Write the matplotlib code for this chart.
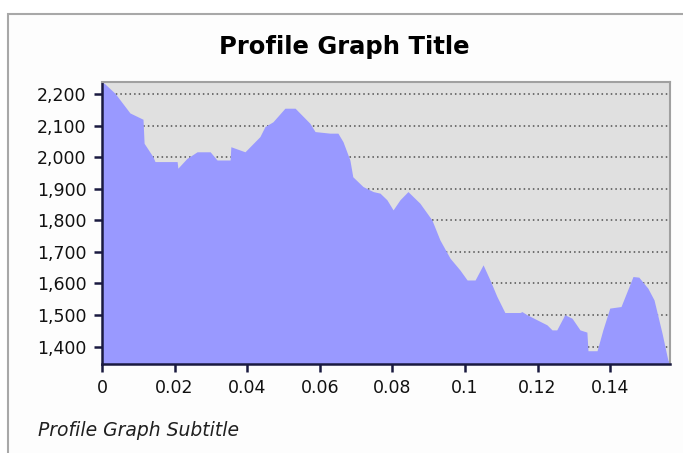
import matplotlib
matplotlib.use('Agg')
import matplotlib.pyplot as plt
from matplotlib.patches import Rectangle
from matplotlib.ticker import FuncFormatter

# distance along the profile and elevation
distance = [0, 0.0008, 0.0036, 0.0077, 0.0113, 0.0116, 0.0140, 0.0146, 0.0207, 0.0209,
            0.0234, 0.0262, 0.0298, 0.0317, 0.0353, 0.0355, 0.0394, 0.0435, 0.0449, 0.0471,
            0.0504, 0.0532, 0.0573, 0.0587, 0.0628, 0.0650, 0.0664, 0.0683, 0.0691, 0.0719,
            0.0747, 0.0766, 0.0785, 0.0802, 0.0821, 0.0843, 0.0876, 0.0909, 0.0931, 0.0959,
            0.0986, 0.1006, 0.1028, 0.1050, 0.1069, 0.1088, 0.1110, 0.1152, 0.1157, 0.1171,
            0.1207, 0.1226, 0.1240, 0.1253, 0.1275, 0.1295, 0.1317, 0.1336, 0.1339, 0.1364,
            0.1380, 0.1399, 0.1430, 0.1463, 0.1479, 0.1504, 0.1521, 0.1543, 0.1559, 0.1565]
elevation = [2238, 2232, 2202, 2140, 2120, 2044, 2002, 1986, 1986, 1965,
             1996, 2017, 2017, 1991, 1991, 2033, 2017, 2065, 2097, 2112,
             2155, 2155, 2107, 2081, 2076, 2076, 2049, 1991, 1938, 1907,
             1891, 1886, 1865, 1833, 1865, 1891, 1854, 1801, 1738, 1680,
             1643, 1611, 1611, 1659, 1611, 1559, 1508, 1508, 1511, 1501,
             1480, 1469, 1453, 1453, 1501, 1490, 1453, 1446, 1387, 1387,
             1453, 1522, 1527, 1622, 1620, 1585, 1548, 1443, 1358, 1346]

x_ticks = [0, 0.02, 0.04, 0.06, 0.08, 0.1, 0.12, 0.14]
x_labels = ['0', '0.02', '0.04', '0.06', '0.08', '0.1', '0.12', '0.14']
y_ticks = [1400, 1500, 1600, 1700, 1800, 1900, 2000, 2100, 2200]

title = 'Profile Graph Title'
subtitle = 'Profile Graph Subtitle'

W, H = 683, 453
fig = plt.figure(figsize=(W / 100, H / 100), dpi=100)
fig.patch.set_facecolor('white')

# outer panel with grey border, kept behind the axes
fig.patches.append(Rectangle((8 / W, -0.1), 1.2, 1.1 - 14 / H, transform=fig.transFigure,
                             facecolor='#fdfdfd', edgecolor='#a8a8a8', linewidth=1.5,
                             zorder=-5))

ax = fig.add_axes([102 / W, 1 - 364 / H, (670 - 102) / W, (364 - 82) / H])
ax.set_facecolor('#e0e0e0')

ymin, ymax = 1345, 2238
ax.fill_between(distance, elevation, ymin, color='#9999ff', linewidth=0, zorder=2)

ax.set_xlim(0, 0.1565)
ax.set_ylim(ymin, ymax)
ax.set_xticks(x_ticks)
ax.set_xticklabels(x_labels)
ax.set_yticks(y_ticks)
ax.yaxis.set_major_formatter(FuncFormatter(lambda v, p: f'{int(v):,}'))

ax.grid(axis='y', color='#505050', linestyle=(0, (1, 2)), linewidth=1.1, zorder=1)
ax.set_axisbelow(True)

for side in ['left', 'bottom']:
    ax.spines[side].set_color('#1a1a40')
    ax.spines[side].set_linewidth(1.8)
for side in ['top', 'right']:
    ax.spines[side].set_color('#a0a0a0')
    ax.spines[side].set_linewidth(1.5)

ax.tick_params(axis='both', direction='out', length=6, width=1.8, color='#1a1a40',
               labelsize=12.5, labelcolor='#111111', pad=5)

fig.text(344 / W, 1 - 47 / H, title, ha='center', va='center',
         fontsize=17.5, fontweight='bold', color='black')
fig.text(38 / W, 1 - 430 / H, subtitle, ha='left', va='center',
         fontsize=13.5, style='italic', color='#202020')

fig.savefig('out.png', dpi=100)
